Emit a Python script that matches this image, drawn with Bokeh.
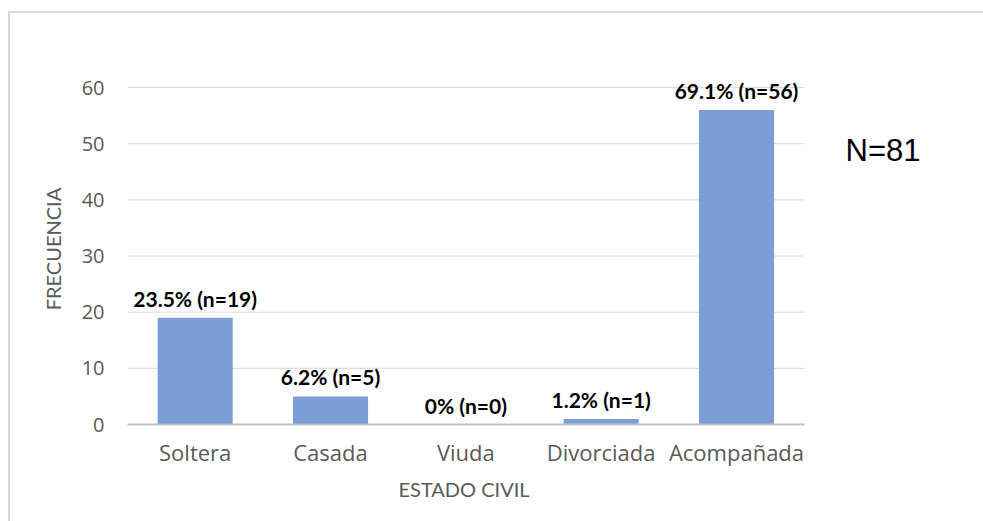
from bokeh.plotting import figure
from bokeh.models import ColumnDataSource, Label, Range1d, FixedTicker, Title
from bokeh.core.properties import value
from bokeh.embed import file_html
from bokeh.resources import INLINE

categories = ["Soltera", "Casada", "Viuda", "Divorciada", "Acompañada"]
counts = [19, 5, 0, 1, 56]
labels = ["23.5% (n=19)", "6.2% (n=5)", "0% (n=0)", "1.2% (n=1)", "69.1% (n=56)"]
total_n = 81
y_ticks = [0, 10, 20, 30, 40, 50, 60]

xs = list(range(len(categories)))
src = ColumnDataSource(dict(x=xs, cnt=counts, lab=labels))
x_lo, x_hi = -0.5, len(categories) - 0.5

p = figure(x_range=Range1d(x_lo, x_hi + 1.0), y_range=Range1d(0, 62.5),
           width=975, height=510, output_backend="svg", toolbar_location=None,
           min_border_left=117, min_border_right=46, min_border_top=60, min_border_bottom=99)
p.margin = (11, 0, 0, 8)
p.styles = {"border-left": "2px solid #d9d9d9", "border-top": "2px solid #d9d9d9", "box-sizing": "border-box"}
p.outline_line_color = None
p.background_fill_color = "white"
p.border_fill_color = "white"

# horizontal gridlines confined to the category area
p.segment(x0=[x_lo] * len(y_ticks), x1=[x_hi] * len(y_ticks), y0=y_ticks, y1=y_ticks,
          line_color="#d9d9d9", line_width=1)

p.vbar(x="x", top="cnt", width=0.555, source=src, fill_color="#7b9ed7", line_color=None)
p.text(x="x", y="cnt", text="lab", source=src, y_offset=-7, text_align="center",
       text_baseline="bottom", text_font=value("Lato"), text_font_style="bold",
       text_font_size="21px", text_color="#000000")

p.xgrid.grid_line_color = None
p.ygrid.grid_line_color = None
p.yaxis.ticker = y_ticks
p.yaxis.axis_line_color = None
p.yaxis.major_tick_line_color = None
p.yaxis.minor_tick_line_color = None
p.yaxis.major_tick_in = 0
p.yaxis.major_tick_out = 0
p.yaxis.major_label_standoff = 23
p.yaxis.major_label_text_font = "Open Sans"
p.yaxis.major_label_text_font_size = "20px"
p.yaxis.major_label_text_color = "#595959"
p.yaxis.axis_label = "FRECUENCIA"
p.yaxis.axis_label_text_font = "Lato"
p.yaxis.axis_label_text_font_style = "normal"
p.yaxis.axis_label_text_font_size = "20px"
p.yaxis.axis_label_text_color = "#595959"
p.yaxis.axis_label_standoff = 14

p.xaxis.ticker = FixedTicker(ticks=xs)
p.xaxis.major_label_overrides = {i: c for i, c in zip(xs, categories)}
p.xaxis.bounds = (x_lo, x_hi)
p.xaxis.axis_line_color = "#bfbfbf"
p.xaxis.axis_line_width = 2
p.xaxis.major_tick_line_color = None
p.xaxis.minor_tick_line_color = None
p.xaxis.major_tick_in = 0
p.xaxis.major_tick_out = 0
p.xaxis.major_label_standoff = 12
p.xaxis.major_label_text_font = "Open Sans"
p.xaxis.major_label_text_font_size = "22px"
p.xaxis.major_label_text_color = "#595959"

p.add_layout(Title(text="ESTADO CIVIL", align="left", offset=271, text_font="Lato",
                   text_font_style="normal", text_font_size="20px", text_color="#595959",
                   standoff=10), "below")

p.add_layout(Label(x=718, y=274, x_units="screen", y_units="screen",
                   text="N=%d" % total_n, text_font="Liberation Sans",
                   text_font_size="31px", text_color="#000000", text_baseline="middle",
                   text_align="left"))

open("out.html", "w").write(file_html(p, INLINE))
